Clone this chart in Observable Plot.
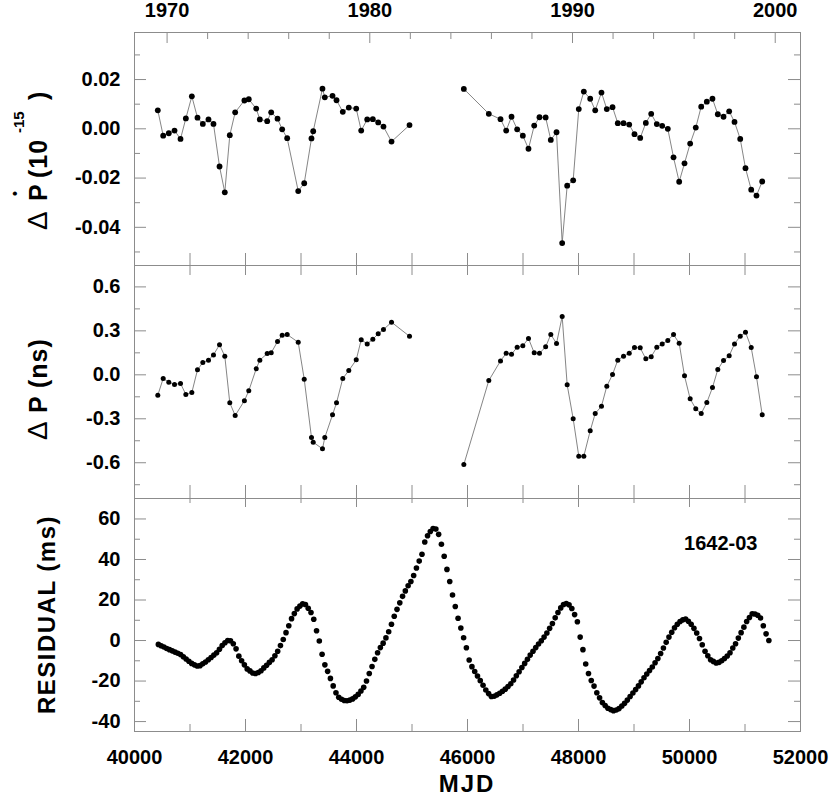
<!DOCTYPE html>
<html><head><meta charset="utf-8">
<script src="https://cdn.jsdelivr.net/npm/d3@7"></script>
<script src="https://cdn.jsdelivr.net/npm/@observablehq/plot@0.6"></script>
<style>
body{margin:0;background:#fff}
#chart svg{display:block}
</style>
</head><body><div id="chart"></div>
<script>
// ---- data ----
const epochMJD = [40420,40517,40618,40721,40829,40925,41033,41135,41231,41333,
41423,41532,41627,41717,41814,41980,42059,42193,42258,42391,
42463,42577,42661,42751,42950,43058,43189,43220,43387,43429,
43568,43640,43753,43861,43995,44085,44193,44294,44391,44486,
44631,44955,
45934,46384,46595,46697,46793,46895,46997,47099,47202,47297,
47408,47501,47604,47706,47796,47904,48005,48096,48211,48301,
48414,48510,48613,48708,48811,48914,49009,49112,49213,49310,
49411,49508,49609,49712,49814,49910,50012,50113,50211,50312,
50414,50510,50613,50715,50811,50914,51009,51112,51207,51310];

const pdotVal = [0.0075,-0.0028,-0.0018,-0.0007,-0.0041,0.0042,0.0132,0.0045,0.0020,0.0038,
0.0020,-0.0153,-0.0258,-0.0026,0.0067,0.0115,0.0120,0.0082,0.0038,0.0031,
0.0067,0.0041,-0.0002,-0.0038,-0.0253,-0.0221,-0.0039,-0.0010,0.0163,0.0128,
0.0134,0.0116,0.0069,0.0086,0.0082,-0.0007,0.0038,0.0039,0.0026,0.0009,
-0.0052,0.0015,
0.0162,0.0061,0.0039,-0.0007,0.0049,-0.0002,-0.0028,-0.0081,0.0013,0.0047,
0.0046,-0.0045,-0.0014,-0.0464,-0.0231,-0.0209,0.0080,0.0151,0.0122,0.0075,
0.0147,0.0080,0.0088,0.0023,0.0023,0.0017,-0.0022,-0.0037,0.0024,0.0061,
0.0019,0.0012,0.0000,-0.0116,-0.0215,-0.0140,-0.0060,0.0005,0.0090,0.0110,
0.0122,0.0059,0.0049,0.0071,0.0028,-0.0041,-0.0160,-0.0247,-0.0271,-0.0214];

const pVal = [-0.139,-0.025,-0.050,-0.066,-0.059,-0.134,-0.121,0.034,0.084,0.100,
0.136,0.205,0.127,-0.191,-0.278,-0.177,-0.109,0.041,0.100,0.145,
0.150,0.227,0.270,0.275,0.222,-0.030,-0.428,-0.460,-0.505,-0.428,
-0.273,-0.191,-0.025,0.029,0.102,0.239,0.211,0.243,0.280,0.309,
0.359,0.263,
-0.612,-0.039,0.095,0.147,0.141,0.188,0.198,0.248,0.150,0.147,
0.191,0.275,0.214,0.398,-0.068,-0.300,-0.555,-0.555,-0.382,-0.264,
-0.214,-0.078,0.002,0.100,0.127,0.147,0.186,0.184,0.109,0.123,
0.188,0.211,0.234,0.275,0.216,-0.007,-0.164,-0.232,-0.264,-0.189,
-0.087,0.036,0.098,0.130,0.211,0.263,0.291,0.186,-0.014,-0.273];

const resMJD = [40430,40480,40530,40580,40630,40680,40730,40780,40830,40880,
40930,40980,41030,41080,41130,41180,41230,41280,41330,41380,
41430,41480,41530,41580,41630,41680,41730,41780,41830,41880,
41930,41980,42030,42080,42130,42180,42230,42280,42330,42380,
42430,42480,42530,42580,42630,42680,42730,42780,42830,42880,
42930,42980,43030,43080,43130,43180,43230,43280,43330,43380,
43430,43480,43530,43580,43630,43680,43730,43780,43830,43880,
43930,43980,44030,44080,44130,44180,44230,44280,44330,44380,
44430,44480,44530,44580,44630,44680,44730,44780,44830,44880,
44930,44980,45030,45080,45130,45180,45230,45280,45330,45380,
45430,45480,45530,45580,45630,45680,45730,45780,45830,45880,
45930,45980,46030,46080,46130,46180,46230,46280,46330,46380,
46430,46480,46530,46580,46630,46680,46730,46780,46830,46880,
46930,46980,47030,47080,47130,47180,47230,47280,47330,47380,
47430,47480,47530,47580,47630,47680,47730,47780,47830,47880,
47930,47980,48030,48080,48130,48180,48230,48280,48330,48380,
48430,48480,48530,48580,48630,48680,48730,48780,48830,48880,
48930,48980,49030,49080,49130,49180,49230,49280,49330,49380,
49430,49480,49530,49580,49630,49680,49730,49780,49830,49880,
49930,49980,50030,50080,50130,50180,50230,50280,50330,50380,
50430,50480,50530,50580,50630,50680,50730,50780,50830,50880,
50930,50980,51030,51080,51130,51180,51230,51280,51330,51380,
51430];

const resVal = [-1.9,-2.6,-3.2,-3.9,-4.5,-5.1,-5.7,-6.3,-6.9,-8.0,
-9.1,-10.2,-11.3,-12.0,-12.6,-12.4,-11.5,-10.6,-9.5,-8.4,
-7.2,-6.0,-4.3,-2.5,-1.1,0.0,-0.1,-1.6,-4.1,-7.7,
-10.0,-12.0,-14.0,-15.0,-16.0,-16.3,-15.8,-14.9,-13.5,-12.2,
-10.8,-9.5,-7.5,-5.3,-2.5,0.5,3.9,7.3,10.8,13.3,
15.6,17.0,18.1,17.8,15.9,13.8,10.5,4.8,-0.2,-6.8,
-12.0,-15.2,-18.7,-22.4,-25.8,-28.0,-29.0,-29.6,-29.7,-29.4,
-28.8,-27.8,-26.6,-24.9,-23.1,-20.0,-16.3,-12.8,-9.3,-6.0,
-3.5,-1.3,1.3,4.3,8.0,12.0,15.4,18.6,21.8,24.5,
27.0,29.1,32.1,35.8,39.2,42.6,48.6,51.7,53.8,55.3,
55.0,52.4,47.5,41.6,35.1,29.1,22.5,16.8,11.0,6.2,
1.4,-3.6,-9.6,-12.9,-15.3,-17.5,-19.8,-22.1,-24.4,-26.2,
-27.6,-27.5,-26.8,-26.0,-25.0,-24.0,-22.7,-21.3,-19.5,-17.4,
-15.4,-13.3,-11.3,-9.3,-7.2,-5.3,-3.5,-1.7,-0.1,1.7,
3.7,6.0,8.4,11.2,13.8,16.1,17.8,18.3,17.6,15.8,
12.8,9.3,1.7,-4.5,-11.6,-16.3,-19.7,-22.5,-25.8,-28.3,
-30.6,-32.1,-33.4,-34.1,-34.6,-34.3,-33.6,-32.3,-31.0,-29.4,
-27.6,-25.9,-24.2,-22.4,-20.4,-18.4,-16.5,-14.8,-13.1,-11.0,
-8.9,-6.4,-3.7,-0.9,1.7,4.1,6.3,8.0,9.4,10.2,
10.6,9.5,8.0,6.0,3.7,1.0,-2.1,-5.3,-7.5,-9.5,
-10.3,-11.1,-10.8,-10.0,-8.9,-7.6,-6.0,-3.7,-1.6,1.2,
3.9,6.6,9.4,11.4,13.2,13.1,12.5,11.1,7.3,3.3,
0.0];

// tick values / labels
const yearLabels = [1970, 1980, 1990, 2000];
const yearMinor = [1972,1974,1976,1978,1982,1984,1986,1988,1992,1994,1996,1998];
const mjdMajor = [40000,42000,44000,46000,48000,50000,52000];
const mjdMinor = [41000,43000,45000,47000,49000,51000];
const mjdAll = [41000,42000,43000,44000,45000,46000,47000,48000,49000,50000,51000];
const pdotMajor = [-0.04,-0.02,0,0.02];
const pdotMinor = [-0.05,-0.03,-0.01,0.01,0.03];
const pMajor = [-0.6,-0.3,0,0.3,0.6];
const pMinor = [-0.75,-0.45,-0.15,0.15,0.45];
const resMajor = [-40,-20,0,20,40,60];
const resMinor = [-30,-10,10,30,50];
const pulsarName = "1642-03";

// ---- build ----
const epochs = [];
let seg = 0;
epochMJD.forEach((m, i) => {
  if (i > 0 && m - epochMJD[i-1] > 500) seg++;
  epochs.push({mjd: m, pdot: pdotVal[i], p: pVal[i], seg});
});
const residuals = resMJD.map((m, i) => ({mjd: m, r: resVal[i]}));

const mjdOfYear = y => 40587 + (y - 1970) * 365.25;
const yearOfMjd = d => String(Math.round(1970 + (d - 40587) / 365.25));

const W = 830, ML = 134, MR = 30, IW = W - ML - MR;
const GRAY = "#8c8c8c";
const FONT = "Liberation Sans, Arial, Helvetica, sans-serif";
const FS = 20;
const XD = [40000, 52000];

function yTicks(major, minor) {
  return [
    Plot.tickY(major, {y: d => d, stroke: GRAY, insetRight: IW - 12}),
    Plot.tickY(major, {y: d => d, stroke: GRAY, insetLeft: IW - 12}),
    Plot.tickY(minor, {y: d => d, stroke: GRAY, insetRight: IW - 6}),
    Plot.tickY(minor, {y: d => d, stroke: GRAY, insetLeft: IW - 6})
  ];
}
function xTicksBottom(list, len, ih) {
  return Plot.tickX(list, {x: d => d, stroke: GRAY, insetTop: ih - len});
}
function xTicksTop(list, len, ih) {
  return Plot.tickX(list, {x: d => d, stroke: GRAY, insetBottom: ih - len});
}
const baseStyle = {fontFamily: FONT, fontSize: FS + "px", fontWeight: "bold", color: "black", overflow: "visible", background: "none"};

// top panel: ΔṖ
const IH1 = 233;
const p1 = Plot.plot({
  width: W, height: 265, marginLeft: ML, marginRight: MR, marginTop: 32, marginBottom: 0,
  style: baseStyle,
  x: {domain: XD},
  y: {domain: [-0.0555, 0.0391], axis: null},
  marks: [
    Plot.frame({stroke: GRAY}),
    ...yTicks(pdotMajor, pdotMinor),
    xTicksTop(yearLabels.map(mjdOfYear), 11, IH1),
    xTicksTop(yearMinor.map(mjdOfYear), 7, IH1),
    xTicksBottom(mjdAll, 12, IH1),
    Plot.axisX({anchor: "top", ticks: yearLabels.map(mjdOfYear), tickSize: 0, tickPadding: 16,
      tickFormat: yearOfMjd, label: null, fontSize: FS, fontWeight: "bold"}),
    Plot.axisY({ticks: pdotMajor, tickSize: 0, tickPadding: 14, tickFormat: d => d.toFixed(2),
      label: null, fontSize: FS, fontWeight: "bold"}),
    Plot.line(epochs, {x: "mjd", y: "pdot", z: "seg", stroke: "#777", strokeWidth: 0.9}),
    Plot.dot(epochs, {x: "mjd", y: "pdot", r: 2.9, fill: "black"})
  ]
});

// middle panel: ΔP
const IH2 = 233;
const p2 = Plot.plot({
  width: W, height: 233, marginLeft: ML, marginRight: MR, marginTop: 0, marginBottom: 0,
  style: baseStyle,
  x: {domain: XD, axis: null},
  y: {domain: [-0.844, 0.746], axis: null},
  marks: [
    Plot.frame({stroke: GRAY}),
    ...yTicks(pMajor, pMinor),
    xTicksTop(mjdAll, 10, IH2),
    xTicksBottom(mjdAll, 13, IH2),
    Plot.axisY({ticks: pMajor, tickSize: 0, tickPadding: 14, tickFormat: d => d.toFixed(1),
      label: null, fontSize: FS, fontWeight: "bold"}),
    Plot.line(epochs, {x: "mjd", y: "p", z: "seg", stroke: "#777", strokeWidth: 0.9}),
    Plot.dot(epochs, {x: "mjd", y: "p", r: 2.5, fill: "black"})
  ]
});

// bottom panel: residuals
const IH3 = 233;
const p3 = Plot.plot({
  width: W, height: 301, marginLeft: ML, marginRight: MR, marginTop: 0, marginBottom: 68,
  style: baseStyle,
  x: {domain: XD},
  y: {domain: [-44.9, 70.1], axis: null},
  marks: [
    Plot.frame({stroke: GRAY}),
    ...yTicks(resMajor, resMinor),
    xTicksTop(mjdMajor, 9, IH3),
    xTicksTop(mjdMinor, 5, IH3),
    xTicksBottom(mjdMajor, 12, IH3),
    xTicksBottom(mjdMinor, 7, IH3),
    Plot.axisX({ticks: mjdMajor, tickSize: 0, tickPadding: 18, tickFormat: d => String(d),
      label: null, fontSize: FS, fontWeight: "bold"}),
    Plot.axisY({ticks: resMajor, tickSize: 0, tickPadding: 14, tickFormat: d => String(d),
      label: null, fontSize: FS, fontWeight: "bold"}),
    Plot.dot(residuals, {x: "mjd", y: "r", r: 2.8, fill: "black"}),
    Plot.text([pulsarName], {frameAnchor: "top-right", dx: -43, dy: 37, textAnchor: "end",
      fontSize: FS, fontWeight: "bold", fill: "black"})
  ]
});

const chart = document.getElementById("chart");
chart.append(p1, p2, p3);

// axis titles
function title(svg, x, y, parts, anchor) {
  const t = d3.select(svg).append("text")
    .attr("transform", `translate(${x},${y}) rotate(-90)`)
    .attr("font-family", FONT).attr("fill", "black")
    .attr("text-anchor", anchor || "start");
  parts.forEach(p => {
    const s = t.append("tspan").text(p.t)
      .attr("font-size", p.s || 25).attr("font-weight", p.w || "bold");
    if (p.x !== undefined) s.attr("x", p.x);
    if (p.y !== undefined) s.attr("y", p.y);
    if (p.ls) s.attr("letter-spacing", p.ls);
  });
  return t;
}
title(p1, 47, 230, [
  {t: "Δ", x: 0, y: 0, s: 28, w: "normal"},
  {t: "P", x: 29, y: 0},
  {t: "•", x: 34, y: -27, s: 14},
  {t: "(10", x: 52, y: 0, ls: 1},
  {t: "-15", x: 97, y: -23, s: 15},
  {t: ")", x: 130, y: 0}
]);
title(p2, 47, 440 - 265, [
  {t: "Δ", x: 0, y: 0, s: 28, w: "normal"},
  {t: "P", x: 27, y: 0},
  {t: "(ns)", x: 52, y: 0, ls: 1}
]);
title(p3, 55, 614.5 - 498, [
  {t: "RESIDUAL (ms)", s: 24, ls: 1.5}
], "middle");
d3.select(p3).append("text")
  .attr("x", 467).attr("y", 294)
  .attr("text-anchor", "middle").attr("font-family", FONT)
  .attr("font-size", 24).attr("font-weight", "bold").attr("letter-spacing", 2)
  .attr("fill", "black").text("MJD");
</script>
</body></html>
